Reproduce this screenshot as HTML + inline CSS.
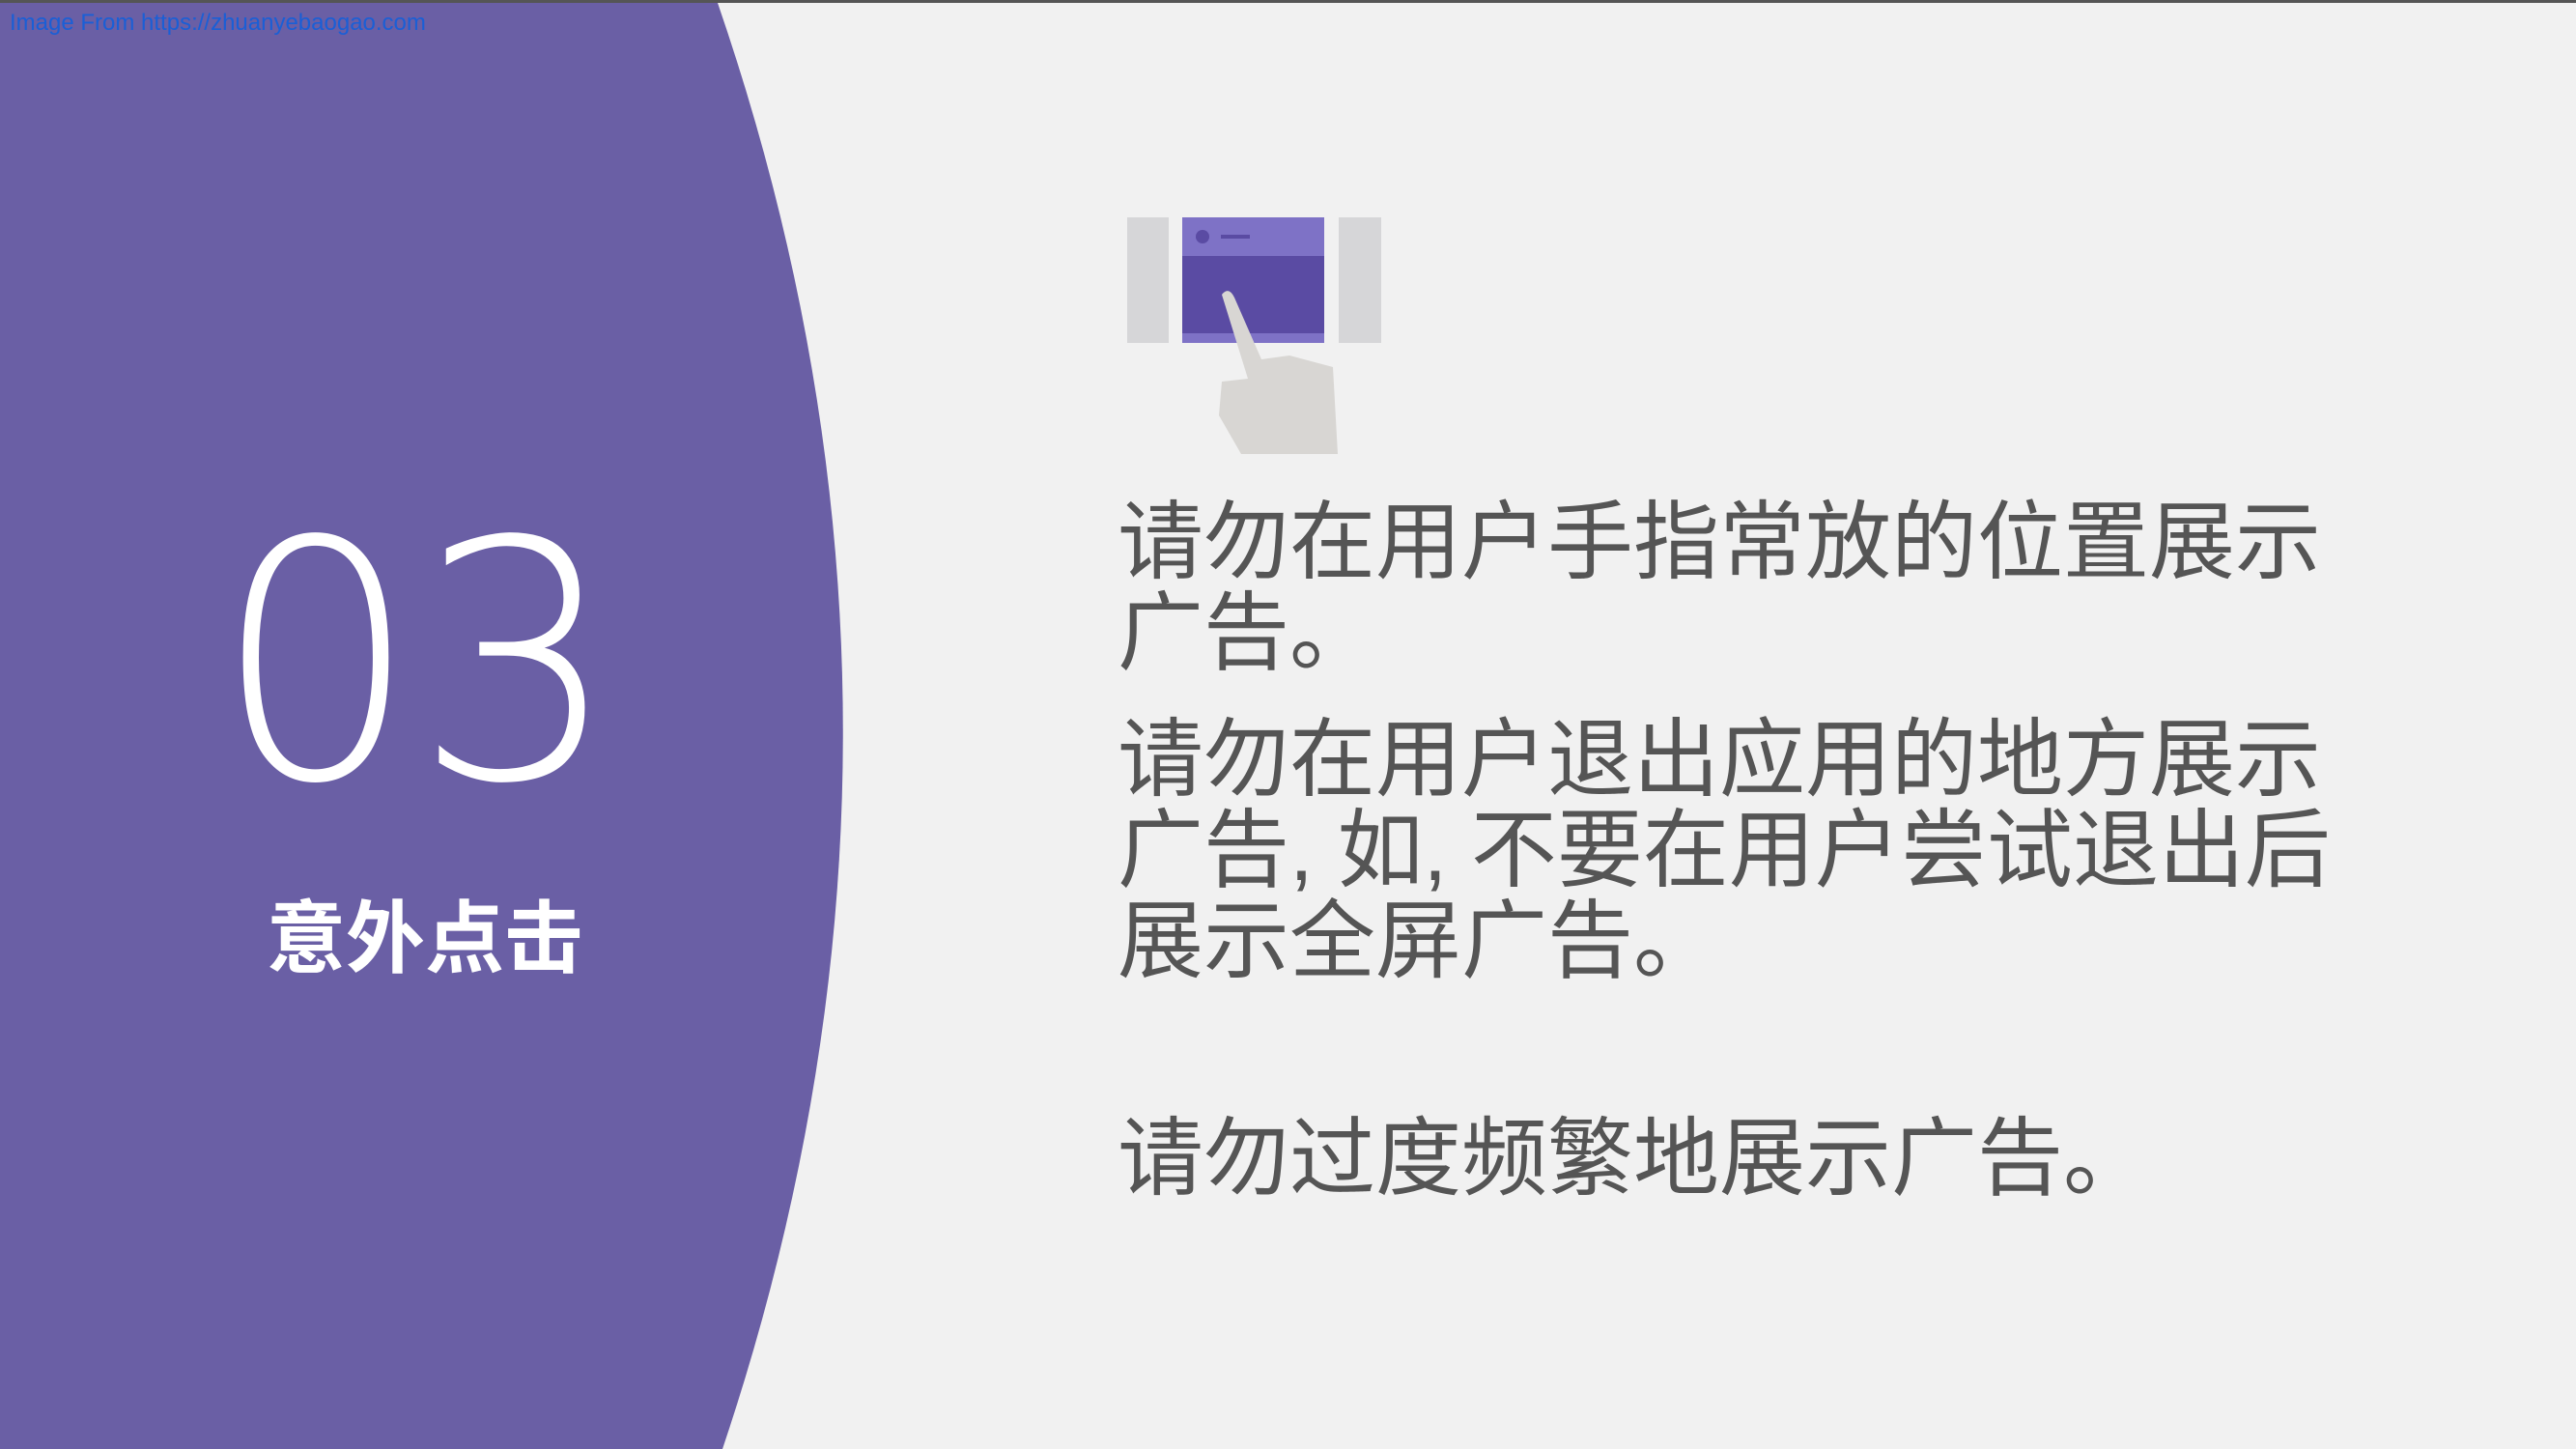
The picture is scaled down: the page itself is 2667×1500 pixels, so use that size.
<!DOCTYPE html>
<html><head><meta charset="utf-8"><style>
html,body{margin:0;padding:0}
body{width:2667px;height:1500px;position:relative;overflow:hidden;background:#f1f1f1;font-family:"Liberation Sans","Noto Sans CJK SC",sans-serif}
.t{position:absolute;left:1157px;color:#555;font-size:89px;line-height:94px;white-space:nowrap;font-weight:400}
</style></head><body>
<svg width="2667" height="1500" style="position:absolute;left:0;top:0">
<rect x="0" y="0" width="2667" height="3" fill="#555"/>
<path d="M0 3 L743 3 Q1000 750 748 1500 L0 1500 Z" fill="#6a5fa5"/>
<g>
<rect x="1167" y="225" width="43" height="130" fill="#d6d6d8"/>
<rect x="1386" y="225" width="44" height="130" fill="#d6d6d8"/>
<rect x="1224" y="225" width="147" height="130" fill="#5a4ba3"/>
<rect x="1224" y="225" width="147" height="40" fill="#7e72c6"/>
<rect x="1224" y="345" width="147" height="10" fill="#7e72c6"/>
<circle cx="1245" cy="245" r="7" fill="#5a4ba3"/>
<rect x="1264" y="243" width="30" height="4" fill="#5a4ba3"/>
<path d="M1265 305 Q1272 296 1278 308 L1306 372 L1335 368 L1380 380 L1385 470 L1285 470 L1262 430 L1265 395 L1292 392 Z" fill="#d8d6d3"/>
</g>
</svg>
<div style="position:absolute;left:10px;top:10px;font-size:24px;color:#1a5fd6">Image From https://zhuanyebaogao.com</div>
<div style="position:absolute;left:222px;top:497px;font-size:342px;line-height:380px;color:#fff;font-weight:100;font-family:'DejaVu Sans','Liberation Sans',sans-serif;letter-spacing:-4px;transform:scaleX(0.97);transform-origin:left">03</div>
<div style="position:absolute;left:276px;top:926px;font-size:82px;line-height:94px;color:#fff;font-weight:bold">意外点击</div>
<div class="t" style="top:514px">请勿在用户手指常放的位置展示<br>广告。</div>
<div class="t" style="top:739px">请勿在用户退出应用的地方展示<br>广告, 如, 不要在用户尝试退出后<br>展示全屏广告。</div>
<div class="t" style="top:1152px">请勿过度频繁地展示广告。</div>
</body></html>
